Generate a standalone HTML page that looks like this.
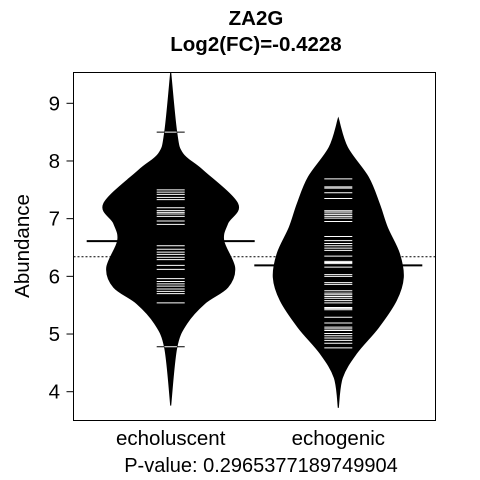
<!DOCTYPE html>
<html><head><meta charset="utf-8"><style>
html,body{margin:0;padding:0;background:#fff;}
svg{display:block;font-family:"Liberation Sans",Arial,sans-serif;}
</style></head><body>
<svg id="chart" width="480" height="480" viewBox="0 0 480 480">
  <rect x="0" y="0" width="480" height="480" fill="#fff"/>
  <defs id="defs"></defs>
  <text x="256" y="25" text-anchor="middle" font-size="20.5" font-weight="bold">ZA2G</text>
  <text x="256" y="51" text-anchor="middle" font-size="20.5" font-weight="bold">Log2(FC)=-0.4228</text>
  <text transform="translate(29,246) rotate(-90)" text-anchor="middle" font-size="20.5">Abundance</text>
  <text x="261" y="472" text-anchor="middle" font-size="20">P-value: 0.2965377189749904</text>
  <g id="plot"></g>
</svg>
<script>
const categories = ["echoluscent", "echogenic"];
const yTicks = [4, 5, 6, 7, 8, 9];
// density outline: values and relative half-widths
const densVals1 = [9.54, 8.50, 8.13, 7.84, 7.26, 6.92, 6.62, 6.15, 5.81, 5.53, 5.18, 4.76, 3.76];
const densW1 =    [0, 6, 12, 32, 67, 57, 53, 64, 57, 34, 16, 6, 0];
const densVals2 = [8.74, 8.24, 7.72, 7.26, 6.85, 6.40, 5.98, 5.58, 5.11, 4.66, 4.24, 3.72];
const densW2 =    [0, 9, 30, 41, 49, 61, 65, 58, 40, 18, 4, 0];
const obs1 = [8.50, 7.50, 7.46, 7.42, 7.37, 7.33, 7.19, 7.14, 7.11, 7.08, 7.04, 6.96, 6.90, 6.53, 6.47, 6.42, 6.38, 6.33, 6.29, 6.19, 6.12, 5.96, 5.91, 5.87, 5.83, 5.78, 5.74, 5.70, 5.54, 4.78];
const obs2 = [7.69, 7.55, 7.53, 7.45, 7.35, 7.14, 7.13, 7.10, 7.07, 7.04, 7.01, 6.95, 6.69, 6.62, 6.57, 6.53, 6.49, 6.45, 6.35, 6.26, 6.24, 6.22, 6.16, 6.03, 6.00, 5.89, 5.86, 5.75, 5.71, 5.68, 5.65, 5.62, 5.58, 5.54, 5.46, 5.44, 5.42, 5.29, 5.19, 5.12, 5.09, 5.06, 5.01, 4.97, 4.93, 4.89, 4.84, 4.76];
const groupMeans = [6.61, 6.19];
const overallMean = 6.34;

const NS = "http://www.w3.org/2000/svg";
const g = document.getElementById("plot");
const defs = document.getElementById("defs");
const L = 73.5, R = 435.5, T = 72.5, B = 420.5;
const y = v => 391.7 - (v - 4) * 57.68;
const xc = i => [170.7, 338.3][i];
function mk(tag, attrs, parent) { const e = document.createElementNS(NS, tag); for (const k in attrs) e.setAttribute(k, attrs[k]); (parent || g).appendChild(e); return e; }

function smooth(pts) {
  let d = "M" + pts[0][0] + "," + pts[0][1];
  for (let i = 0; i < pts.length - 1; i++) {
    const p0 = pts[Math.max(0, i - 1)], p1 = pts[i], p2 = pts[i + 1], p3 = pts[Math.min(pts.length - 1, i + 2)];
    const c1 = [p1[0] + (p2[0] - p0[0]) / 6, p1[1] + (p2[1] - p0[1]) / 6];
    const c2 = [p2[0] - (p3[0] - p1[0]) / 6, p2[1] - (p3[1] - p1[1]) / 6];
    d += " C" + c1[0] + "," + c1[1] + " " + c2[0] + "," + c2[1] + " " + p2[0] + "," + p2[1];
  }
  return d;
}

let e = mk("line", {x1: L, x2: R, y1: y(overallMean), y2: y(overallMean), stroke: "#000", "stroke-width": 1, "stroke-dasharray": "2,2"});



const dv = [densVals1, densVals2], dw = [densW1, densW2], ob = [obs1, obs2];
for (let i = 0; i < 2; i++) {
  const c = xc(i);
  const right = dv[i].map((v, k) => [c + dw[i][k], y(v)]);
  const left = dv[i].map((v, k) => [c - dw[i][k], y(v)]).reverse();
  const d = smooth(right) + " L" + smooth(left).slice(1) + " Z";
  const cp = mk("clipPath", {id: "clip" + i}, defs);
  mk("path", {d: d}, cp);
  e = mk("path", {d: d, fill: "#000", stroke: "#000", "stroke-width": 1});
  
  
  ob[i].forEach(v => {
    const lb = mk("line", {x1: c - 14, x2: c + 14, y1: y(v), y2: y(v), stroke: "#000", "stroke-width": 1});
    
    
    const ln = mk("line", {x1: c - 14, x2: c + 14, y1: y(v), y2: y(v), stroke: "#fff", "stroke-width": 1, "clip-path": "url(#clip" + i + ")"});
    
    
  });
  e = mk("line", {x1: c - 84, x2: c + 84, y1: y(groupMeans[i]), y2: y(groupMeans[i]), stroke: "#000", "stroke-width": 2});
  
  
  const t = mk("text", {x: c, y: 445, "text-anchor": "middle", "font-size": 20.5});
  t.textContent = categories[i];
  
  
}

e = mk("rect", {x: L, y: T, width: R - L, height: B - T, fill: "none", stroke: "#000", "stroke-width": 1});



yTicks.forEach(v => {
  const tk = mk("line", {x1: L - 7, x2: L, y1: y(v), y2: y(v), stroke: "#000", "stroke-width": 1});
  
  
  const t = mk("text", {x: 60, y: y(v) + 7, "text-anchor": "end", "font-size": 20.5});
  t.textContent = v;
  
  
});
</script>
</body></html>
